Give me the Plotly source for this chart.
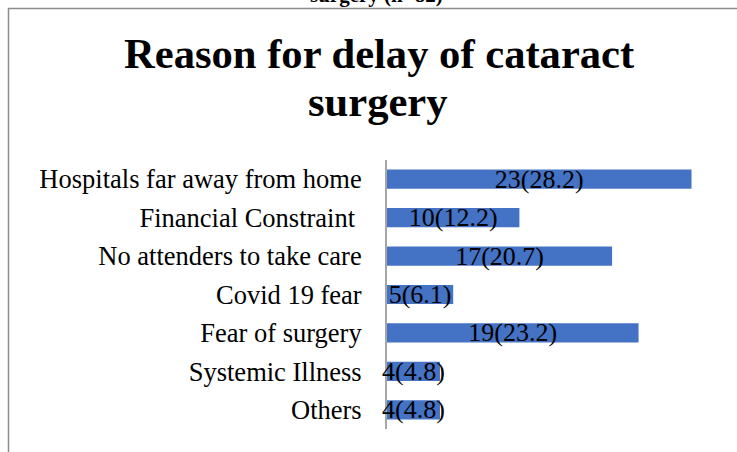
import plotly.graph_objects as go

categories = ["Hospitals far away from home", "Financial Constraint\u00a0", "No attenders to take care",
              "Covid 19 fear", "Fear of surgery", "Systemic Illness", "Others"]
counts = [23, 10, 17, 5, 19, 4, 4]
percents = [28.2, 12.2, 20.7, 6.1, 23.2, 4.8, 4.8]
labels = [f"{c}({p})" for c, p in zip(counts, percents)]

W, H = 737, 452
L, R, T, B = 387, 19, 160, 23
pw, ph = W - L - R, H - T - B

def px_x(x):
    return (x - L) / pw

def px_y(y):
    return (H - B - y) / ph

font = "Liberation Serif, Times New Roman, serif"

fig = go.Figure(go.Bar(
    x=counts, y=categories, orientation="h",
    marker=dict(color="#4472C4", line=dict(width=0)),
    width=0.5,
    text=labels, textposition="inside", insidetextanchor="middle",
    textfont=dict(family=font, size=26, color="black"),
    constraintext="none", cliponaxis=False,
))

fig.update_layout(
    width=W, height=H,
    margin=dict(l=L, r=R, t=T, b=B, autoexpand=False),
    paper_bgcolor="white", plot_bgcolor="white",
    showlegend=False,
    uniformtext=dict(minsize=26, mode="show"),
    xaxis=dict(range=[0, 25], showgrid=False, showticklabels=False, zeroline=False,
               showline=False, ticks="", layer="below traces"),
    yaxis=dict(categoryorder="array", categoryarray=categories, autorange="reversed",
               showline=True, linecolor="#A6A6A6", linewidth=2, ticks="", showgrid=False,
               layer="below traces",
               tickfont=dict(family=font, size=26.5, color="black"), ticklabelstandoff=18),
    shapes=[dict(type="rect", xref="paper", yref="paper",
                 x0=px_x(8.5), x1=px_x(760), y0=px_y(480), y1=px_y(8.5),
                 line=dict(color="#8C8C8C", width=1.5), fillcolor="rgba(0,0,0,0)", layer="above")],
    annotations=[
        dict(text="<b>Reason for delay of cataract</b>", xref="paper", yref="paper",
             x=px_x(379), y=px_y(28), xanchor="center", yanchor="top", showarrow=False,
             font=dict(family=font, size=42.6, color="black")),
        dict(text="<b>surgery</b>", xref="paper", yref="paper",
             x=px_x(378), y=px_y(76), xanchor="center", yanchor="top", showarrow=False,
             font=dict(family=font, size=42.6, color="black")),
        dict(text="<b>surgery (n=82)</b>", xref="paper", yref="paper",
             x=px_x(376), y=px_y(9), xanchor="center", yanchor="bottom", showarrow=False,
             font=dict(family=font, size=21, color="black")),
    ],
)

fig.write_html("out.html")
